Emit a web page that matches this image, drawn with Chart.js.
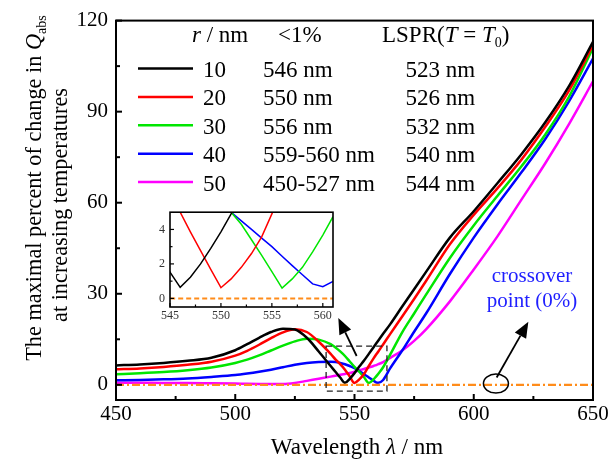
<!DOCTYPE html>
<html>
<head>
<meta charset="utf-8">
<script src="https://cdn.jsdelivr.net/npm/chart.js@4.4.0/dist/chart.umd.min.js"></script>
<style>
html, body { margin: 0; padding: 0; background: #fff; }
#wrap { position: relative; width: 612px; height: 462px; }
#main { position: absolute; left: 0; top: 0; }
#inset { position: absolute; left: 130px; top: 200px; }
</style>
</head>
<body>
<div id="wrap">
  <canvas id="main" width="612" height="462"></canvas>
  <canvas id="inset" width="215" height="130"></canvas>
</div>
<script>
// main plot data (wavelength in nm, percent change)
const wavelength = [450,460,470,480,490,500,505,510,515,520,525,530,535,540,542,544,546,548,550,552,554,556,558,559,560,562,565,570,575,580,590,600,610,620,630,640,650];
const r10 = [6.4,6.7,7.2,7.9,8.9,11.4,13.4,15.5,17.4,18.5,18.2,15.5,11.0,6.2,4.3,2.4,0.65,2.0,3.86,6.0,8.0,10.2,12.4,13.5,14.6,16.8,20.0,25.8,31.5,37.2,48.5,57.2,66.5,76.0,86.5,98.5,113];
const r20 = [5.1,5.4,5.9,6.6,7.6,9.6,11.2,13.2,15.4,17.3,18.3,17.4,14.2,10.2,8.4,6.8,5.0,2.77,0.62,1.8,3.57,6.2,8.7,9.9,11.0,13.3,16.8,22.5,28.3,34.2,46.3,56.0,64.8,74.2,85.0,97.0,112];
const r30 = [3.5,3.8,4.2,4.8,5.7,7.2,8.3,9.7,11.3,12.9,14.3,15.2,14.9,13.4,12.3,11.0,9.5,7.7,5.9,4.3,2.5,0.6,1.8,2.7,3.67,5.8,10.0,17.3,23.5,29.7,41.8,52.5,62.3,72.0,82.5,95.0,111];
const r40 = [1.5,1.6,1.8,2.1,2.6,3.2,3.7,4.3,5.0,5.8,6.6,7.2,7.5,7.6,7.5,7.2,6.8,6.2,5.5,4.5,3.5,2.44,1.37,0.84,0.68,1.6,5.5,11.3,17.5,23.5,36.5,48.5,59.5,70.0,81.0,93.5,107.5];
const r50 = [0.7,0.7,0.6,0.6,0.5,0.4,0.35,0.3,0.25,0.25,0.6,1.3,2.0,2.7,3.0,3.3,3.6,3.9,4.3,4.8,5.2,5.7,6.2,6.5,6.8,7.5,8.9,11.3,14.5,18.3,27.5,38.0,49.0,61.0,73.0,86.0,100];
const zeroX = [450, 650];
const zeroY = [0, 0];

// inset data (1 nm steps)
const insetWl = [544,545,546,547,548,549,550,551,552,553,554,555,556,557,558,559,560,561,562];
const in10 = [2.4,1.52,0.64,1.23,2.0,2.9,3.86,4.9,6.0,null,null,null,null,null,null,null,null,null,null];
const in20 = [7.2,6.1,5.0,3.86,2.77,1.68,0.62,1.13,1.8,2.6,3.57,4.9,6.2,null,null,null,null,null,null];
const in30 = [null,null,null,null,null,null,5.9,5.0,4.3,3.4,2.5,1.55,0.6,1.13,1.8,2.7,3.67,4.74,5.8];
const in40 = [null,null,null,null,null,null,5.5,5.0,4.5,4.0,3.5,3.0,2.44,1.9,1.37,0.84,0.68,0.98,1.6];

// ticks
const xTicks = [450, 500, 550, 600, 650];
const xMinor = [475, 525, 575, 625];
const yTicks = [0, 30, 60, 90, 120];
const yMinor = [15, 45, 75, 105];
const inXTicks = [545, 550, 555, 560];
const inXMinor = [547.5, 552.5, 557.5];
const inYTicks = [0, 2, 4];
const inYMinor = [1, 3];

// legend table
const radii = ['10', '20', '30', '40', '50'];
const belowOne = ['546 nm', '550 nm', '556 nm', '559-560 nm', '450-527 nm'];
const lsprPeak = ['523 nm', '526 nm', '532 nm', '540 nm', '544 nm'];
const colors = ['#000000', '#ff0000', '#00e600', '#0000ff', '#ff00ff'];
const ORANGE = '#ff8c1a';
const FONT = '"Liberation Serif", "Times New Roman", serif';

const pts = (xs, ys) => xs.map((v, i) => ({x: v, y: ys[i]}));

function segFont(st, size) {
    if (st === 's') return Math.round(size * 0.62) + 'px ' + FONT;
    return (st === 'i' ? 'italic ' : '') + size + 'px ' + FONT;
}
function richText(ctx, segs, x, y, size, align) {
    let w = 0;
    segs.forEach(([t, st]) => { ctx.font = segFont(st, size); w += ctx.measureText(t).width; });
    let cx = align === 'center' ? x - w / 2 : x;
    ctx.textAlign = 'left';
    ctx.textBaseline = 'alphabetic';
    segs.forEach(([t, st]) => {
        ctx.font = segFont(st, size);
        ctx.fillText(t, cx, st === 's' ? y + size * 0.22 : y);
        cx += ctx.measureText(t).width;
    });
}
function seg(ctx, x1, y1, x2, y2) {
    ctx.beginPath(); ctx.moveTo(x1, y1); ctx.lineTo(x2, y2); ctx.stroke();
}
function arrow(ctx, x1, y1, x2, y2) {
    const ang = Math.atan2(y2 - y1, x2 - x1);
    const hl = 16, hw = 6.5;
    const bx = x2 - hl * Math.cos(ang), by = y2 - hl * Math.sin(ang);
    ctx.lineWidth = 1.8;
    seg(ctx, x1, y1, bx, by);
    ctx.beginPath();
    ctx.moveTo(x2, y2);
    ctx.lineTo(bx + hw * Math.sin(ang), by - hw * Math.cos(ang));
    ctx.lineTo(bx - hw * Math.sin(ang), by + hw * Math.cos(ang));
    ctx.closePath();
    ctx.fill();
}

const mainDecor = {
    id: 'mainDecor',
    afterDraw(chart) {
        const {ctx, chartArea: a, scales: {x, y}} = chart;
        ctx.save();
        ctx.strokeStyle = '#000';
        ctx.fillStyle = '#000';
        ctx.lineWidth = 2;
        // inward ticks
        xTicks.forEach(v => { const p = x.getPixelForValue(v); seg(ctx, p, a.bottom, p, a.bottom - 6); });
        xMinor.forEach(v => { const p = x.getPixelForValue(v); seg(ctx, p, a.bottom, p, a.bottom - 4); });
        yTicks.forEach(v => { const p = y.getPixelForValue(v); seg(ctx, a.left, p, a.left + 6, p); });
        yMinor.forEach(v => { const p = y.getPixelForValue(v); seg(ctx, a.left, p, a.left + 4, p); });
        ctx.strokeRect(a.left, a.top, a.right - a.left, a.bottom - a.top);

        // legend table
        ctx.fillStyle = '#000';
        richText(ctx, [['r', 'i'], [' / nm', 'n']], 192, 42, 23);
        richText(ctx, [['<1%', 'n']], 278, 42, 23);
        richText(ctx, [['LSPR(', 'n'], ['T', 'i'], [' = ', 'n'], ['T', 'i'], ['0', 's'], [')', 'n']], 382, 42, 23);
        radii.forEach((r, i) => {
            const by = 77 + i * 28.4;
            ctx.strokeStyle = colors[i];
            ctx.lineWidth = 2.5;
            seg(ctx, 138, by - 8.5, 193, by - 8.5);
            ctx.fillStyle = '#000';
            richText(ctx, [[r, 'n']], 203, by, 23);
            richText(ctx, [[belowOne[i], 'n']], 263, by, 23);
            richText(ctx, [[lsprPeak[i], 'n']], 405.5, by, 23);
        });

        // axis titles
        ctx.fillStyle = '#000';
        richText(ctx, [['Wavelength ', 'n'], ['λ', 'i'], [' / nm', 'n']], 357, 454, 23, 'center');
        ctx.save();
        ctx.translate(41, 188);
        ctx.rotate(-Math.PI / 2);
        richText(ctx, [['The maximal percent of change in ', 'n'], ['Q', 'i'], ['abs', 's']], 0, 0, 22.3, 'center');
        ctx.restore();
        ctx.save();
        ctx.translate(67, 205);
        ctx.rotate(-Math.PI / 2);
        richText(ctx, [['at increasing temperatures', 'n']], 0, 0, 22.3, 'center');
        ctx.restore();

        // dashed zoom box around the minima
        ctx.strokeStyle = '#222';
        ctx.lineWidth = 1.3;
        ctx.setLineDash([6, 4]);
        const bx1 = x.getPixelForValue(538.1), bx2 = x.getPixelForValue(563.6);
        const by1 = y.getPixelForValue(12.75), by2 = y.getPixelForValue(-2.1);
        ctx.strokeRect(bx1, by1, bx2 - bx1, by2 - by1);
        ctx.setLineDash([]);

        // arrows, circle, crossover label
        ctx.strokeStyle = '#000';
        ctx.fillStyle = '#000';
        arrow(ctx, x.getPixelForValue(550.9), y.getPixelForValue(9.5), x.getPixelForValue(543.2), y.getPixelForValue(22));
        arrow(ctx, x.getPixelForValue(609.6), y.getPixelForValue(2.4), x.getPixelForValue(622.9), y.getPixelForValue(20.8));
        ctx.lineWidth = 1.5;
        ctx.beginPath();
        ctx.ellipse(x.getPixelForValue(609.3), y.getPixelForValue(0.4), 12.5, 9.5, 0, 0, Math.PI * 2);
        ctx.stroke();
        ctx.fillStyle = '#1f1fff';
        richText(ctx, [['crossover', 'n']], 532, 281.5, 21, 'center');
        richText(ctx, [['point (0%)', 'n']], 532, 307, 21, 'center');
        ctx.restore();
    }
};

const insetDecor = {
    id: 'insetDecor',
    afterDraw(chart) {
        const {ctx, chartArea: a, scales: {x, y}} = chart;
        ctx.save();
        ctx.strokeStyle = '#000';
        ctx.lineWidth = 1.2;
        inXTicks.forEach(v => { const p = x.getPixelForValue(v); seg(ctx, p, a.bottom, p, a.bottom - 4); });
        inXMinor.forEach(v => { const p = x.getPixelForValue(v); seg(ctx, p, a.bottom, p, a.bottom - 2.5); });
        inYTicks.forEach(v => { const p = y.getPixelForValue(v); seg(ctx, a.left, p, a.left + 4, p); });
        inYMinor.forEach(v => { const p = y.getPixelForValue(v); seg(ctx, a.left, p, a.left + 2.5, p); });
        ctx.lineWidth = 1.6;
        ctx.strokeRect(a.left, a.top, a.right - a.left, a.bottom - a.top);
        ctx.restore();
    }
};

const series = [r10, r20, r30, r40, r50];
const mainSets = [{
    data: pts(zeroX, zeroY), borderColor: ORANGE, borderWidth: 2.2, borderDash: [8, 3, 2, 3]
}].concat(series.map((s, i) => ({
    data: pts(wavelength, s), borderColor: colors[i], borderWidth: 2.5, cubicInterpolationMode: 'monotone'
})));

new Chart(document.getElementById('main'), {
    type: 'line',
    data: { datasets: mainSets },
    options: {
        responsive: false, animation: false, events: [],
        layout: { padding: { top: 17, right: 19, left: 0, bottom: 0 } },
        elements: { point: { radius: 0 } },
        plugins: { legend: { display: false }, tooltip: { enabled: false } },
        scales: {
            x: {
                type: 'linear', min: 450, max: 650,
                grid: { display: false, drawTicks: false }, border: { display: false },
                afterBuildTicks: s => { s.ticks = xTicks.map(v => ({value: v})); },
                afterFit: s => { s.height = 62; },
                ticks: { color: '#000', font: { family: FONT, size: 21 }, padding: 2, maxRotation: 0 }
            },
            y: {
                type: 'linear', min: -5, max: 120,
                grid: { display: false, drawTicks: false }, border: { display: false },
                afterBuildTicks: s => { s.ticks = yTicks.map(v => ({value: v})); },
                afterFit: s => { s.width = 116; },
                ticks: { color: '#000', font: { family: FONT, size: 21 }, padding: 8 }
            }
        }
    },
    plugins: [mainDecor]
});

const insetSeries = [in10, in20, in30, in40];
const insetSets = [{
    data: pts(zeroX, zeroY), borderColor: ORANGE, borderWidth: 2, borderDash: [5, 3]
}].concat(insetSeries.map((s, i) => ({
    data: pts(insetWl, s), borderColor: colors[i], borderWidth: 1.5, spanGaps: false
})));

new Chart(document.getElementById('inset'), {
    type: 'line',
    data: { datasets: insetSets },
    options: {
        responsive: false, animation: false, events: [],
        layout: { padding: { top: 12, right: 12, left: 0, bottom: 0 } },
        elements: { point: { radius: 0 }, line: { tension: 0 } },
        plugins: { legend: { display: false }, tooltip: { enabled: false } },
        scales: {
            x: {
                type: 'linear', min: 545, max: 561,
                grid: { display: false, drawTicks: false }, border: { display: false },
                afterBuildTicks: s => { s.ticks = inXTicks.map(v => ({value: v})); },
                afterFit: s => { s.height = 23; },
                ticks: { color: '#333', font: { family: FONT, size: 12 }, padding: 2, maxRotation: 0 }
            },
            y: {
                type: 'linear', min: -0.5, max: 5,
                grid: { display: false, drawTicks: false }, border: { display: false },
                afterBuildTicks: s => { s.ticks = inYTicks.map(v => ({value: v})); },
                afterFit: s => { s.width = 40; },
                ticks: { color: '#333', font: { family: FONT, size: 12 }, padding: 5 }
            }
        }
    },
    plugins: [insetDecor]
});
</script>
</body>
</html>
